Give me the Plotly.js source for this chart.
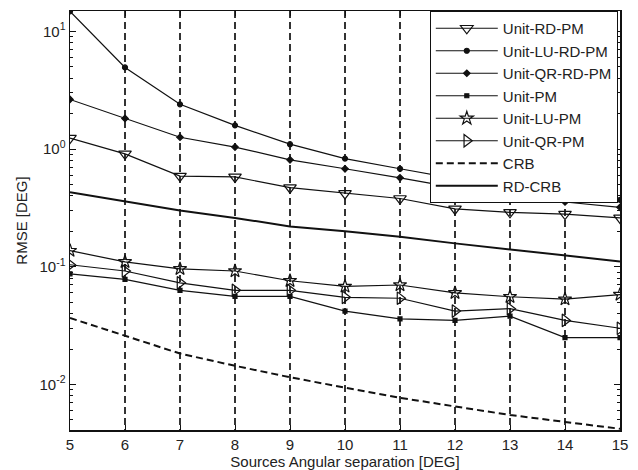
<!DOCTYPE html>
<html>
<head>
<meta charset="utf-8">
<script src="https://cdn.plot.ly/plotly-3.0.1.min.js"></script>
<style>html,body{margin:0;padding:0;background:#fff;}#chart{width:638px;height:470px;}</style>
</head>
<body>
<div id="chart"></div>
<script>
const separation = [5, 6, 7, 8, 9, 10, 11, 12, 13, 14, 15];
const unitRDPM   = [1.24, 0.91, 0.59, 0.58, 0.47, 0.42, 0.38, 0.31, 0.29, 0.28, 0.26];
const unitLURDPM = [14.8, 4.94, 2.40, 1.59, 1.10, 0.83, 0.68, 0.56, 0.48, 0.41, 0.37];
const unitQRRDPM = [2.64, 1.82, 1.26, 1.04, 0.81, 0.68, 0.57, 0.47, 0.40, 0.355, 0.32];
const unitPM     = [0.087, 0.078, 0.063, 0.056, 0.056, 0.042, 0.036, 0.035, 0.038, 0.025, 0.025];
const unitLUPM   = [0.137, 0.110, 0.096, 0.092, 0.076, 0.068, 0.070, 0.060, 0.0556, 0.053, 0.058];
const unitQRPM   = [0.104, 0.092, 0.073, 0.063, 0.063, 0.055, 0.054, 0.042, 0.044, 0.035, 0.030];
const crb        = [0.0367, 0.026, 0.0183, 0.0144, 0.0115, 0.0094, 0.0077, 0.0065, 0.0055, 0.0048, 0.0042];
const rdCRB      = [0.43, 0.36, 0.30, 0.26, 0.22, 0.20, 0.18, 0.158, 0.14, 0.125, 0.111];

const seriesNames = ['Unit-RD-PM','Unit-LU-RD-PM','Unit-QR-RD-PM','Unit-PM','Unit-LU-PM','Unit-QR-PM','CRB','RD-CRB'];
const yTickVals = [0.01, 0.1, 1, 10];
const yTickText = ['10<sup>-2</sup>','10<sup>-1</sup>','10<sup>0</sup>','10<sup>1</sup>'];

const minorVals = [];
for (const d of [0.001, 0.01, 0.1, 1, 10]) for (let k = 2; k <= 9; k++) minorVals.push(d * k);

const K = '#111';
function tr(name, y, sym, size, dash, width) {
  const t = {
    x: separation, y: y, name: name, type: 'scatter',
    mode: sym ? 'lines+markers' : 'lines',
    line: {color: K, width: width || 1.2, dash: dash || 'solid'}
  };
  if (sym) t.marker = {symbol: sym, size: size, color: K, line: {color: K, width: 1.2}};
  return t;
}

const data = [
  tr(seriesNames[0], unitRDPM, 'triangle-down-open', 11),
  tr(seriesNames[1], unitLURDPM, 'circle', 5),
  tr(seriesNames[2], unitQRRDPM, 'diamond', 5),
  tr(seriesNames[3], unitPM, 'square', 4),
  tr(seriesNames[4], unitLUPM, 'star-open', 10),
  tr(seriesNames[5], unitQRPM, 'triangle-right-open', 11),
  tr(seriesNames[6], crb, null, 0, '7px,4px', 2),
  tr(seriesNames[7], rdCRB, null, 0, 'solid', 2)
];

const layout = {
  width: 638, height: 470,
  margin: {l: 70, r: 18, t: 11, b: 40},
  paper_bgcolor: '#fff', plot_bgcolor: '#fff',
  font: {family: 'Liberation Sans, Arial, sans-serif', size: 15, color: '#222'},
  showlegend: true,
  legend: {
    x: 0.996, y: 1, xanchor: 'right', yanchor: 'top',
    bgcolor: '#fff', bordercolor: K, borderwidth: 1,
    font: {size: 15, color: '#222'}, itemwidth: 62, tracegroupgap: 0
  },
  xaxis: {
    range: [5, 15], dtick: 1, tick0: 5,
    ticks: 'inside', ticklen: 5, tickcolor: K,
    showline: true, linecolor: K, linewidth: 1.5, mirror: 'allticks',
    showgrid: true, gridcolor: '#333', gridwidth: 2, griddash: '7px,4px',
    zeroline: false,
    title: {text: 'Sources Angular separation [DEG]', font: {size: 15}, standoff: 6},
    tickfont: {size: 15}
  },
  yaxis: {
    type: 'log', range: [Math.log10(0.0041), Math.log10(14.9)],
    tickmode: 'array', tickvals: yTickVals, ticktext: yTickText,
    ticks: 'inside', ticklen: 6, tickcolor: K,
    minor: {tickmode: 'array', tickvals: minorVals, ticks: 'inside', ticklen: 3, tickcolor: K, showgrid: false},
    showline: true, linecolor: K, linewidth: 1.5, mirror: 'allticks',
    showgrid: false, zeroline: false,
    title: {text: 'RMSE [DEG]', font: {size: 15}, standoff: 8},
    tickfont: {size: 15}
  }
};

Plotly.newPlot('chart', data, layout, {displayModeBar: false, staticPlot: true});
</script>
</body>
</html>
